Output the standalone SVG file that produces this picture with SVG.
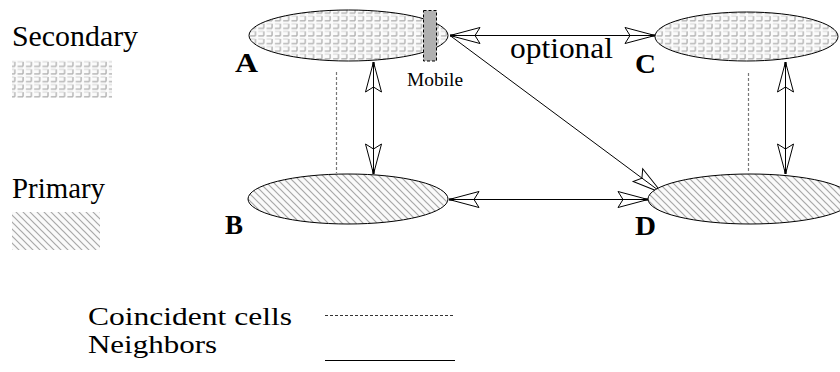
<svg xmlns="http://www.w3.org/2000/svg" width="840" height="372" viewBox="0 0 840 372">
<style>
  text { font-family: "Liberation Serif", "DejaVu Serif", "Times New Roman", serif; fill: #000; }
  .t { font-size: 30px; }
  .lg { font-size: 25px; }
  .lbl { font-size: 28px; font-weight: bold; }
  .mob { font-size: 19px; }
  .cell { stroke: #000; stroke-width: 1; }
  .sec { fill: url(#secPat); }
  .pri { fill: url(#priPat); }
  .link { stroke: #000; stroke-width: 1; fill: none; marker-start: url(#arr); marker-end: url(#arr); }
  .coinc { stroke: #777; stroke-width: 1.2; stroke-dasharray: 3 2; fill: none; }
</style>
<defs>
  <pattern id="secPat" patternUnits="userSpaceOnUse" width="8.3" height="7.6">
    <rect width="8.3" height="7.6" fill="#fbfbfb"/>
    <path d="M1,5.5 H6.5 M6.5,1 V5.5" stroke="#a8a8a8" stroke-width="1.2" fill="none"/>
    <path d="M1,1 H6" stroke="#d4d4d4" stroke-width="1" fill="none"/>
  </pattern>
  <pattern id="priPat" patternUnits="userSpaceOnUse" width="7" height="7">
    <rect width="7" height="7" fill="#fafafa"/>
    <path d="M0,0 L7,7 M-1,6 L1,8 M6,-1 L8,1" stroke="#a8a8a8" stroke-width="1.2" fill="none"/>
  </pattern>
  <marker id="arr" markerUnits="userSpaceOnUse" viewBox="-32 -10 34 20" refX="0" refY="0" markerWidth="34" markerHeight="20" orient="auto-start-reverse" overflow="visible">
    <path d="M-25,0 L-30,-8 L0,0 L-30,8 Z" fill="none" stroke="#000" stroke-width="1"/>
    <path d="M-5,0 L0,0" stroke="#000" stroke-width="2.2"/>
  </marker>
</defs>

<g id="legend-secondary">
  <text class="t" x="12" y="46" textLength="126" lengthAdjust="spacingAndGlyphs">Secondary</text>
  <rect x="12" y="60" width="100" height="38" class="sec"/>
</g>
<g id="legend-primary">
  <text class="t" x="12" y="198" textLength="93" lengthAdjust="spacingAndGlyphs">Primary</text>
  <rect x="12" y="212" width="88" height="38" class="pri"/>
</g>

<g id="connectors">
  <line class="coinc" x1="336.5" y1="72" x2="336.5" y2="173"/>
  <line class="coinc" x1="748.5" y1="73" x2="748.5" y2="173"/>
  <line class="link" x1="373.5" y1="62" x2="373.5" y2="174"/>
  <line class="link" x1="785.5" y1="62" x2="785.5" y2="174"/>
  <line class="link" x1="450" y1="35.5" x2="655" y2="35.5"/>
  <line class="link" x1="449" y1="199.5" x2="648" y2="199.5"/>
  <line stroke="#000" stroke-width="1" fill="none" marker-end="url(#arr)" x1="450" y1="35.5" x2="662" y2="193"/>
</g>

<g id="node-A">
  <ellipse class="cell sec" cx="348.5" cy="35.5" rx="99.5" ry="25.5"/>
  <text class="lbl" x="235" y="72" textLength="23" lengthAdjust="spacingAndGlyphs">A</text>
</g>
<g id="node-mobile">
  <rect x="423.5" y="10.5" width="13" height="50.5" fill="#b0b0b0" stroke="#000" stroke-width="1" stroke-dasharray="3 2"/>
  <text class="mob" x="407" y="86" textLength="56" lengthAdjust="spacingAndGlyphs">Mobile</text>
</g>
<g id="node-B">
  <ellipse class="cell pri" cx="348" cy="199" rx="100" ry="25"/>
  <text class="lbl" x="225" y="234" textLength="18" lengthAdjust="spacingAndGlyphs">B</text>
</g>
<g id="node-C">
  <ellipse class="cell sec" cx="746.5" cy="36.5" rx="91.5" ry="24.5"/>
  <text class="lbl" x="635" y="73" textLength="21" lengthAdjust="spacingAndGlyphs">C</text>
</g>
<g id="node-D">
  <ellipse class="cell pri" cx="750" cy="199" rx="102" ry="25"/>
  <text class="lbl" x="635" y="235" textLength="21" lengthAdjust="spacingAndGlyphs">D</text>
</g>

<g id="label-optional">
  <text class="t" x="510" y="58" textLength="103" lengthAdjust="spacingAndGlyphs">optional</text>
</g>

<g id="legend-lines">
  <text class="lg" x="88" y="325" textLength="204" lengthAdjust="spacingAndGlyphs">Coincident cells</text>
  <text class="lg" x="88" y="353" textLength="129" lengthAdjust="spacingAndGlyphs">Neighbors</text>
  <line x1="325" y1="315.5" x2="455" y2="315.5" stroke="#333" stroke-width="1" stroke-dasharray="3 2"/>
  <line x1="325" y1="360.5" x2="455" y2="360.5" stroke="#000" stroke-width="1"/>
</g>
</svg>
